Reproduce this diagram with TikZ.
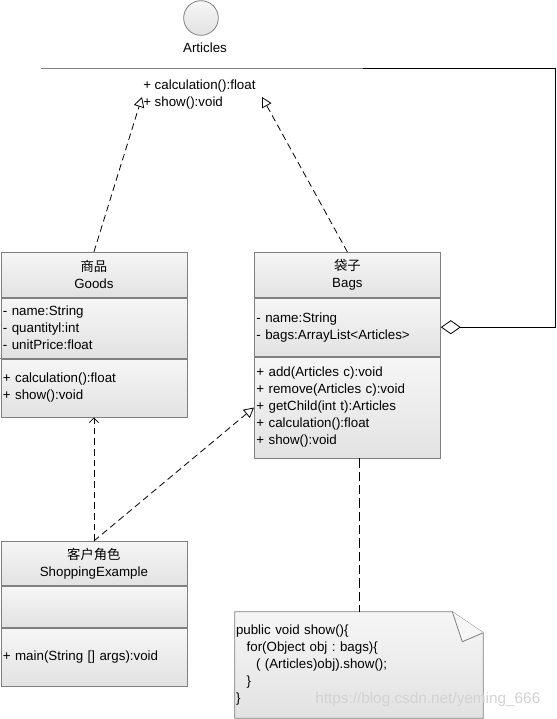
\documentclass[tikz,border=0pt]{standalone}
\usepackage{fontspec}
\setmainfont{Liberation Sans}
\newfontfamily\cjk{Noto Sans CJK SC}
\frenchspacing
\definecolor{boxline}{RGB}{128,128,128}
\definecolor{boxtop}{RGB}{246,246,246}
\definecolor{boxbottom}{RGB}{226,226,226}
\usetikzlibrary{arrows.meta, positioning, calc, backgrounds}

\begin{document}
\begin{tikzpicture}[
        x=0.75pt, y=-0.75pt,
        every node/.style={font=\fontsize{10}{12.75}\selectfont},
        umlpart/.style={rectangle, draw=boxline, line width=0.6pt, top color=boxtop, bottom color=boxbottom,
            inner xsep=1.5pt, inner ysep=0pt, text width=136.5pt, align=left},
        umlhead/.style={umlpart, align=center, anchor=north west},
        realize/.style={draw, line width=0.6pt, dash pattern=on 5pt off 3pt, -{Triangle[open, length=7.5pt, width=8pt, fill=white]}},
        depend/.style={draw, line width=0.6pt, dash pattern=on 5pt off 3pt, -{Straight Barb[length=3.5pt, width=7pt]}},
        aggregate/.style={draw, line width=0.6pt, -{Diamond[open, length=15pt, width=10.5pt, fill=white]}},
        noteline/.style={draw, line width=0.6pt, dash pattern=on 7pt off 3pt}
    ]
        \useasboundingbox (0,0) rectangle (557,719);

        % Interface Articles
        \node[circle, draw=boxline, line width=0.6pt, top color=boxtop, bottom color=boxbottom, minimum size=26pt, inner sep=0pt] (articlesIcon) at (201,18) {};
        \node (articlesName) at (205,48) {Articles};
        \node[anchor=west, align=left, inner sep=0pt] (articlesOps) at (143,95) {+ calculation():float\\+ show():void};
        \coordinate (sepStart) at (41,68);
        \coordinate (sepEnd) at (363,68);
        \coordinate (aggCorner) at (555,68);
        \coordinate (realizeL) at (142,97);
        \coordinate (realizeR) at (262,97);
        \draw[boxline, line width=0.6pt] (sepStart) -- (sepEnd);

        % Goods
        \node[umlhead, minimum height=33.75pt] (goodsHead) at (0.5,252) {{\cjk 商品}\\Goods};
        \node[umlpart, minimum height=45pt, below=0pt of goodsHead] (goodsAttr) {- name:String\\- quantityl:int\\- unitPrice:float};
        \node[umlpart, minimum height=43.5pt, below=0pt of goodsAttr] (goodsOps) {+ calculation():float\\+ show():void};
        \draw[boxline, line width=1.3pt] (goodsOps.north west) -- (goodsOps.north east);

        % Bags
        \node[umlhead, minimum height=33.75pt] (bagsHead) at (254,252) {{\cjk 袋子}\\Bags};
        \node[umlpart, minimum height=43.5pt, below=0pt of bagsHead] (bagsAttr) {- name:String\\- bags:ArrayList<Articles>};
        \node[umlpart, minimum height=75.75pt, below=0pt of bagsAttr] (bagsOps) {+ add(Articles c):void\\+ remove(Articles c):void\\+ getChild(int t):Articles\\+ calculation():float\\+ show():void};
        \draw[boxline, line width=1.3pt] (bagsOps.north west) -- (bagsOps.north east);

        % ShoppingExample
        \node[umlhead, minimum height=33pt] (shopHead) at (0.5,541) {{\cjk 客户角色}\\ShoppingExample};
        \node[umlpart, minimum height=30.75pt, below=0pt of shopHead] (shopAttr) {};
        \node[umlpart, minimum height=43.5pt, below=0pt of shopAttr] (shopOps) {+ main(String [] args):void};

        % Note
        \node[inner xsep=0.75pt, inner ysep=0pt, minimum width=186pt, minimum height=79.5pt, text width=184.5pt, align=left] (note) at (359,665)
            {public void show()\{\\\hspace{8pt}for(Object obj : bags)\{\\\hspace{15pt}( (Articles)obj).show();\\\hspace{8pt}\}\\\}};
        \begin{scope}[on background layer]
            \draw[boxline, line width=0.6pt, top color=boxtop, bottom color=boxbottom]
                (note.north west) -- ([xshift=-23.25pt]note.north east) -- ([yshift=-15.75pt]note.north east)
                -- (note.south east) -- (note.south west) -- cycle;
            \draw[boxline, line width=0.6pt, fill=boxtop]
                ([xshift=-23.25pt]note.north east) -- ([shift={(-15.75pt,-22.5pt)}]note.north east)
                -- ([yshift=-15.75pt]note.north east);
        \end{scope}

        % Connectors
        \draw[realize] (goodsHead.north) -- (realizeL);
        \draw[realize] (bagsHead.north) -- (realizeR);
        \draw[depend] (shopHead.north) -- (goodsOps.south);
        \draw[realize] (shopHead.north) -- (bagsOps.west);
        \draw[aggregate] (sepEnd) -- (aggCorner) |- (bagsAttr.east);
        \draw[noteline] (bagsOps.south -| note.north) -- (note.north);

        \node[anchor=west, text=gray!35, font=\fontsize{11.5}{13}\selectfont, inner sep=0pt] (watermark) at (315,700) {https://blog.csdn.net/yeming\_666};
    \end{tikzpicture}
\end{document}
